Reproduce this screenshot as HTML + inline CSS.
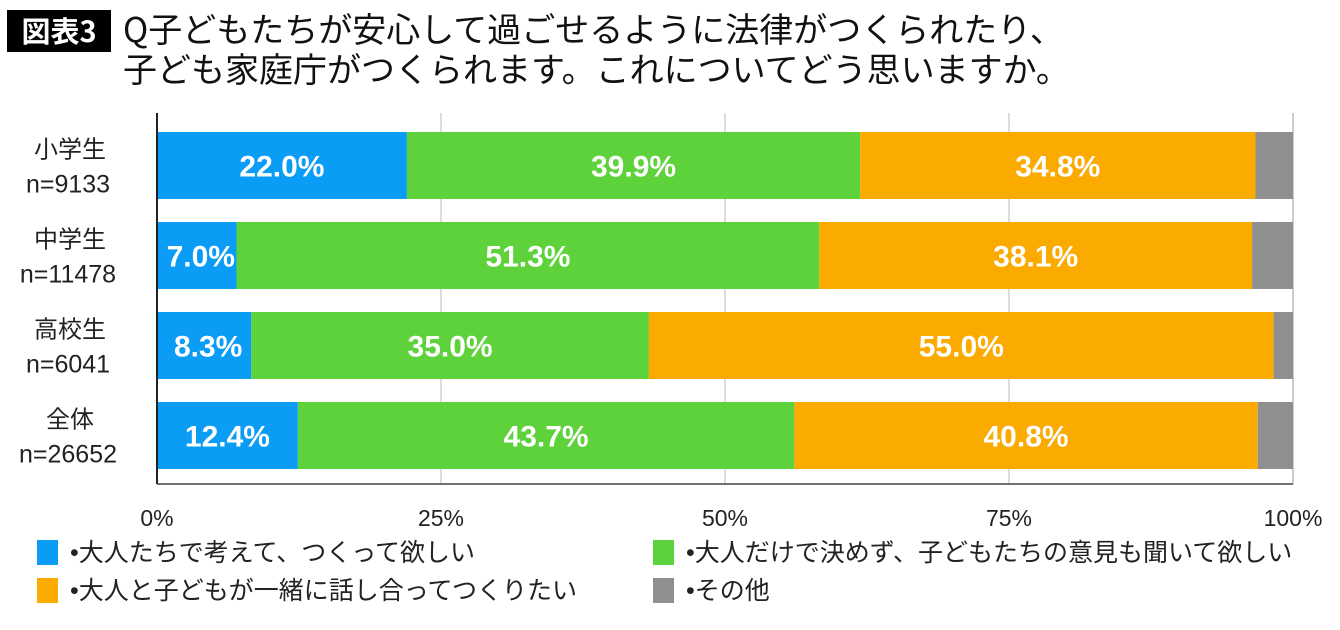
<!DOCTYPE html>
<html><head><meta charset="utf-8"><style>
body{margin:0;background:#fff;width:1340px;height:625px;overflow:hidden;font-family:"Liberation Sans","Noto Sans CJK JP",sans-serif;}
</style></head><body>
<svg id="chart" width="1340" height="625" xmlns="http://www.w3.org/2000/svg" font-family="Liberation Sans, Noto Sans CJK JP, sans-serif">
<rect x="7" y="10" width="104" height="42" fill="#000"/>
<text x="59" y="42" fill="#fff" font-size="29" font-weight="bold" text-anchor="middle" font-family="Noto Sans CJK JP, sans-serif">図表3</text>
<text x="123" y="42" font-size="34" font-family="Noto Sans CJK JP, sans-serif" fill="#111">Q子どもたちが安心して過ごせるように法律がつくられたり、</text>
<text x="123" y="82" font-size="34" font-family="Noto Sans CJK JP, sans-serif" fill="#111">子ども家庭庁がつくられます。これについてどう思いますか。</text>
<g id="grid"></g><g id="bars"></g><g id="labels"></g><g id="axis"></g><g id="legend"></g>
</svg>
<script>
const categories=["小学生","中学生","高校生","全体"];
const sampleSizes=["n=9133","n=11478","n=6041","n=26652"];
const s1=[22.0,7.0,8.3,12.4];
const s2=[39.9,51.3,35.0,43.7];
const s3=[34.8,38.1,55.0,40.8];
const s4=[3.3,3.6,1.7,3.1];
const ticks=[0,25,50,75,100];
const tickLabels=["0%","25%","50%","75%","100%"];
const seriesNames=["•大人たちで考えて、つくって欲しい","•大人だけで決めず、子どもたちの意見も聞いて欲しい","•大人と子どもが一緒に話し合ってつくりたい","•その他"];
const colors=["#0b9cf5","#5ed23a","#fbaa00","#8f8f8f"];
const NS="http://www.w3.org/2000/svg";
const X0=157,X1=1293,T=113,B=484;
const x=v=>X0+(X1-X0)*v/100;
const band=90;
const yTop=i=>132+band*i;const bh=67;
function mk(tag,attrs,parent,txt){const e=document.createElementNS(NS,tag);for(const k in attrs)e.setAttribute(k,attrs[k]);if(txt!==undefined)e.textContent=txt;document.getElementById(parent).appendChild(e);return e;}
ticks.forEach((t,i)=>{
 if(i>0){const g=mk('line',{x1:x(t),x2:x(t),y1:T,y2:B,stroke:i==4?'#bbb':'#d0d0d0','stroke-width':1.5},'grid');
 
 }
 const l=mk('text',{x:x(t),y:526,'text-anchor':'middle','font-size':23,fill:'#222'},'axis',tickLabels[i]);
 
 
});
const ax=mk('line',{x1:X0,x2:X0,y1:T,y2:B,stroke:'#222','stroke-width':2},'axis');


const bx=mk('line',{x1:X0,x2:X1,y1:B,y2:B,stroke:'#444','stroke-width':1.5},'axis');


const series=[s1,s2,s3,s4];
categories.forEach((c,i)=>{
 let acc=0;
 series.forEach((s,j)=>{
  const r=mk('rect',{x:x(acc),y:yTop(i),width:x(acc+s[i])-x(acc),height:bh,fill:colors[j]},'bars');
  
  
  if(j<3){
   const w=x(acc+s[i])-x(acc);
   const cx=w<100?x(acc)+w/2+4:x(acc)+w/2;
   const t=mk('text',{x:cx,y:yTop(i)+bh/2+11,'text-anchor':'middle','font-size':30,'font-weight':'bold',fill:'#fff'},'labels',s[i].toFixed(1)+'%');
   
   
  }
  acc+=s[i];
 });
 const cy=yTop(i)+bh/2;
 const a=mk('text',{x:70,y:cy-8,'text-anchor':'middle','font-size':24,fill:'#222'},'axis',c);
 
 
 const b=mk('text',{x:68,y:cy+27,'text-anchor':'middle','font-size':25,fill:'#222'},'axis',sampleSizes[i]);
 
 
});
const lp=[[37,540],[653,540],[37,578],[653,578]];
seriesNames.forEach((n,j)=>{
 const r=mk('rect',{x:lp[j][0],y:lp[j][1],width:21,height:25,fill:colors[j]},'legend');
 
 
 const t=mk('text',{x:lp[j][0]+33,y:lp[j][1]+21,'font-size':25,fill:'#222'},'legend',n);
 
 
});
</script>
</body></html>
